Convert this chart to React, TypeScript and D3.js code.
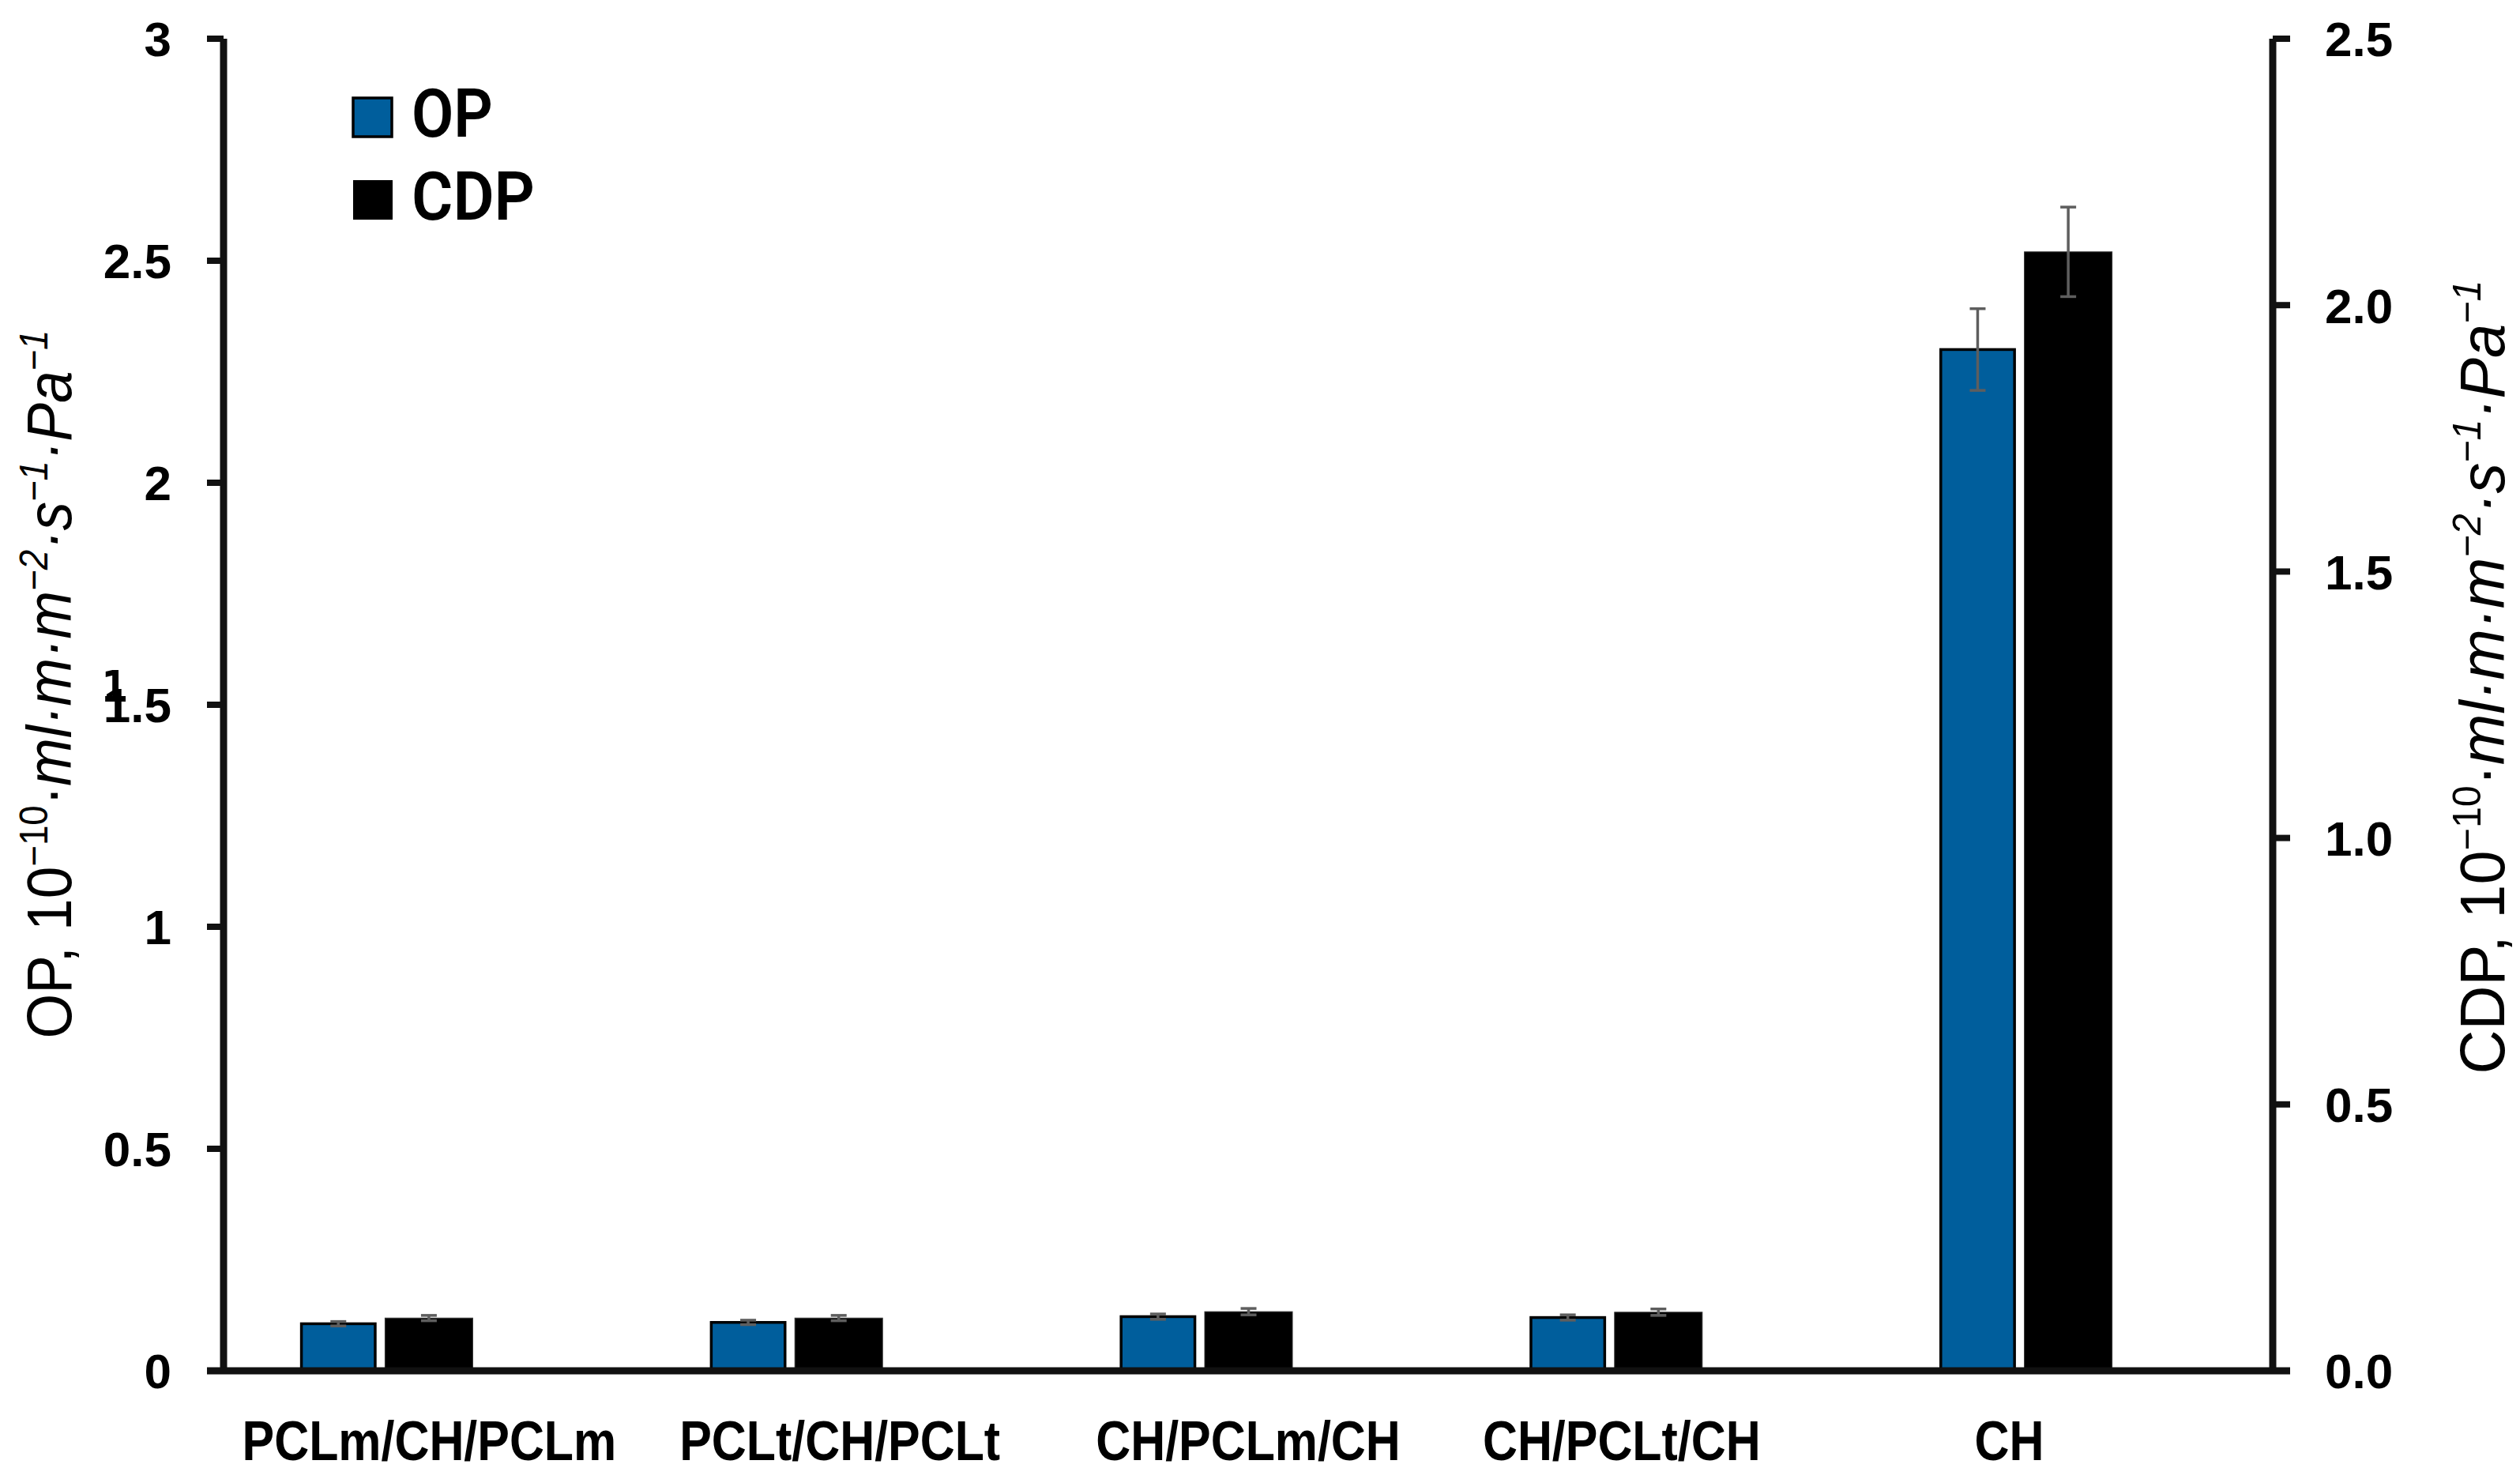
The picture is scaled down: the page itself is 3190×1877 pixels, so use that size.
import React from 'react';
import * as d3 from 'd3';

// ---- data ----
const categories = ['PCLm/CH/PCLm', 'PCLt/CH/PCLt', 'CH/PCLm/CH', 'CH/PCLt/CH', 'CH'];
const opValues = [0.106, 0.109, 0.122, 0.12, 2.3];
const opErrors = [0.005, 0.005, 0.006, 0.006, 0.092];
const cdpValues = [0.099, 0.099, 0.111, 0.11, 2.1];
const cdpErrors = [0.005, 0.005, 0.006, 0.006, 0.084];
const leftTicks = [0, 0.5, 1, 1.5, 2, 2.5, 3];
const leftTickLabels = ['0', '0.5', '1', '1.5', '2', '2.5', '3'];
const rightTicks = [0, 0.5, 1, 1.5, 2, 2.5];
const rightTickLabels = ['0.0', '0.5', '1.0', '1.5', '2.0', '2.5'];
const seriesNames = ['OP', 'CDP'];

// ---- layout ----
const W = 3190;
const H = 1877;
const X0 = 283;
const X1 = 2877;
const Y0 = 1735;
const Y1 = 49;
const labelNudge = [1, 2, 0, -46, -74];
const BLUE = '#005e9c';
const ERR = '#5e5e5e';
const TICKFONT = "'Liberation Sans', Arial, sans-serif";

export default function App() {
  const x = d3.scaleBand<string>().domain(categories).range([X0, X1]).padding(0);
  const bw = x.bandwidth();
  const yL = d3.scaleLinear().domain([0, 3]).range([Y0, Y1]);
  const yR = d3.scaleLinear().domain([0, 2.5]).range([Y0, Y1]);

  const opX = (c: string) => (x(c) as number) + bw * 0.19;
  const opW = bw * 0.18;
  const cdpX = (c: string) => (x(c) as number) + bw * 0.394;
  const cdpW = bw * 0.214;
  const cap = 10;

  const supSize = 50;
  const supDy = -30;

  const titleParts = (name: string) => [
    <tspan key="a">{name + ', 10'}</tspan>,
    <tspan key="b" fontSize={supSize} dy={supDy}>−10</tspan>,
    <tspan key="c" dy={-supDy}>·</tspan>,
    <tspan key="d" fontStyle="italic">ml·m·m</tspan>,
    <tspan key="e" fontStyle="italic" fontSize={supSize} dy={supDy}>−2</tspan>,
    <tspan key="f" fontStyle="italic" dy={-supDy}>·s</tspan>,
    <tspan key="g" fontStyle="italic" fontSize={supSize} dy={supDy}>−1</tspan>,
    <tspan key="h" fontStyle="italic" dy={-supDy}>·Pa</tspan>,
    <tspan key="i" fontStyle="italic" fontSize={supSize} dy={supDy}>−1</tspan>,
  ];

  return (
    <svg
      width={W}
      height={H}
      viewBox={`0 0 ${W} ${H}`}
      style={{ position: 'absolute', left: 0, top: 0, display: 'block', background: '#fff' }}
    >
      <rect x={0} y={0} width={W} height={H} fill="#fff" />

      {/* bars */}
      {categories.map((c, i) => (
        <g key={c}>
          <rect
            x={opX(c)}
            y={yL(opValues[i])}
            width={opW}
            height={yL(0) - yL(opValues[i])}
            fill={BLUE}
            stroke="#000"
            strokeWidth={3.5}
          />
          <rect
            x={cdpX(c)}
            y={yR(cdpValues[i])}
            width={cdpW}
            height={yR(0) - yR(cdpValues[i])}
            fill="#000"
            stroke="#333"
            strokeWidth={1}
          />
        </g>
      ))}

      {/* error bars */}
      {categories.map((c, i) => {
        const cx1 = opX(c) + opW / 2;
        const t1 = yL(opValues[i] + opErrors[i]);
        const b1 = yL(opValues[i] - opErrors[i]);
        const cx2 = cdpX(c) + cdpW / 2;
        const t2 = yR(cdpValues[i] + cdpErrors[i]);
        const b2 = yR(cdpValues[i] - cdpErrors[i]);
        return (
          <g key={'e' + c} stroke={ERR} strokeWidth={3.5}>
            <line x1={cx1} x2={cx1} y1={t1} y2={b1} />
            <line x1={cx1 - cap} x2={cx1 + cap} y1={t1} y2={t1} />
            <line x1={cx1 - cap} x2={cx1 + cap} y1={b1} y2={b1} />
            <line x1={cx2} x2={cx2} y1={t2} y2={b2} />
            <line x1={cx2 - cap} x2={cx2 + cap} y1={t2} y2={t2} />
            <line x1={cx2 - cap} x2={cx2 + cap} y1={b2} y2={b2} />
          </g>
        );
      })}

      {/* axes */}
      <line x1={X0} x2={X0} y1={Y1} y2={Y0} stroke="#111" strokeWidth={9} />
      <line x1={X1} x2={X1} y1={Y1} y2={Y0} stroke="#111" strokeWidth={9} />
      <line x1={X0 - 21} x2={X1 + 22} y1={Y0} y2={Y0} stroke="#111" strokeWidth={9} />

      {leftTicks.map((t, i) => (
        <g key={'lt' + t}>
          <line x1={X0 - 21} x2={X0} y1={yL(t)} y2={yL(t)} stroke="#111" strokeWidth={8} />
          <text
            x={217}
            y={yL(t)}
            dy="0.36em"
            textAnchor="end"
            fontFamily={TICKFONT}
            fontWeight="bold"
            fontSize={62}
            fill="#000"
          >
            {leftTickLabels[i]}
          </text>
        </g>
      ))}
      {/* stray glyph overlapping the 1.5 label in the original */}
      <text
        x={128}
        y={yL(1.5) - 4}
        fontFamily="'DejaVu Sans Mono', monospace"
        fontWeight="bold"
        fontSize={56}
        fill="#000"
      >
        1
      </text>

      {rightTicks.map((t, i) => (
        <g key={'rt' + t}>
          <line x1={X1} x2={X1 + 22} y1={yR(t)} y2={yR(t)} stroke="#111" strokeWidth={8} />
          <text
            x={2943}
            y={yR(t)}
            dy="0.36em"
            textAnchor="start"
            fontFamily={TICKFONT}
            fontWeight="bold"
            fontSize={62}
            fill="#000"
          >
            {rightTickLabels[i]}
          </text>
        </g>
      ))}

      {/* category labels */}
      {categories.map((c, i) => (
        <g
          key={'xl' + c}
          transform={`translate(${(x(c) as number) + bw / 2 + labelNudge[i]},1848) scale(0.87,1)`}
        >
          <text textAnchor="middle" fontFamily={TICKFONT} fontWeight="bold" fontSize={70} fill="#000">
            {c}
          </text>
        </g>
      ))}

      {/* axis titles */}
      <text
        transform="translate(90,866) rotate(-90)"
        textAnchor="middle"
        fontFamily={TICKFONT}
        fontSize={80}
        fill="#000"
        textLength={897}
        lengthAdjust="spacingAndGlyphs"
      >
        {titleParts('OP')}
      </text>
      <text
        transform="translate(3170,857) rotate(-90)"
        textAnchor="middle"
        fontFamily={TICKFONT}
        fontSize={80}
        fill="#000"
        textLength={1005}
        lengthAdjust="spacingAndGlyphs"
      >
        {titleParts('CDP')}
      </text>

      {/* legend */}
      <rect x={447} y={124} width={49} height={49} fill={BLUE} stroke="#000" strokeWidth={3.5} />
      <text
        x={521}
        y={173}
        fontFamily="Roboto, 'Liberation Sans', sans-serif"
        fontWeight={600}
        fontSize={86}
        fill="#000"
        textLength={103}
        lengthAdjust="spacingAndGlyphs"
      >
        {seriesNames[0]}
      </text>
      <rect x={447} y={228} width={50} height={50} fill="#000" />
      <text
        x={521}
        y={278}
        fontFamily="Roboto, 'Liberation Sans', sans-serif"
        fontWeight={600}
        fontSize={86}
        fill="#000"
        textLength={156}
        lengthAdjust="spacingAndGlyphs"
      >
        {seriesNames[1]}
      </text>
    </svg>
  );
}
